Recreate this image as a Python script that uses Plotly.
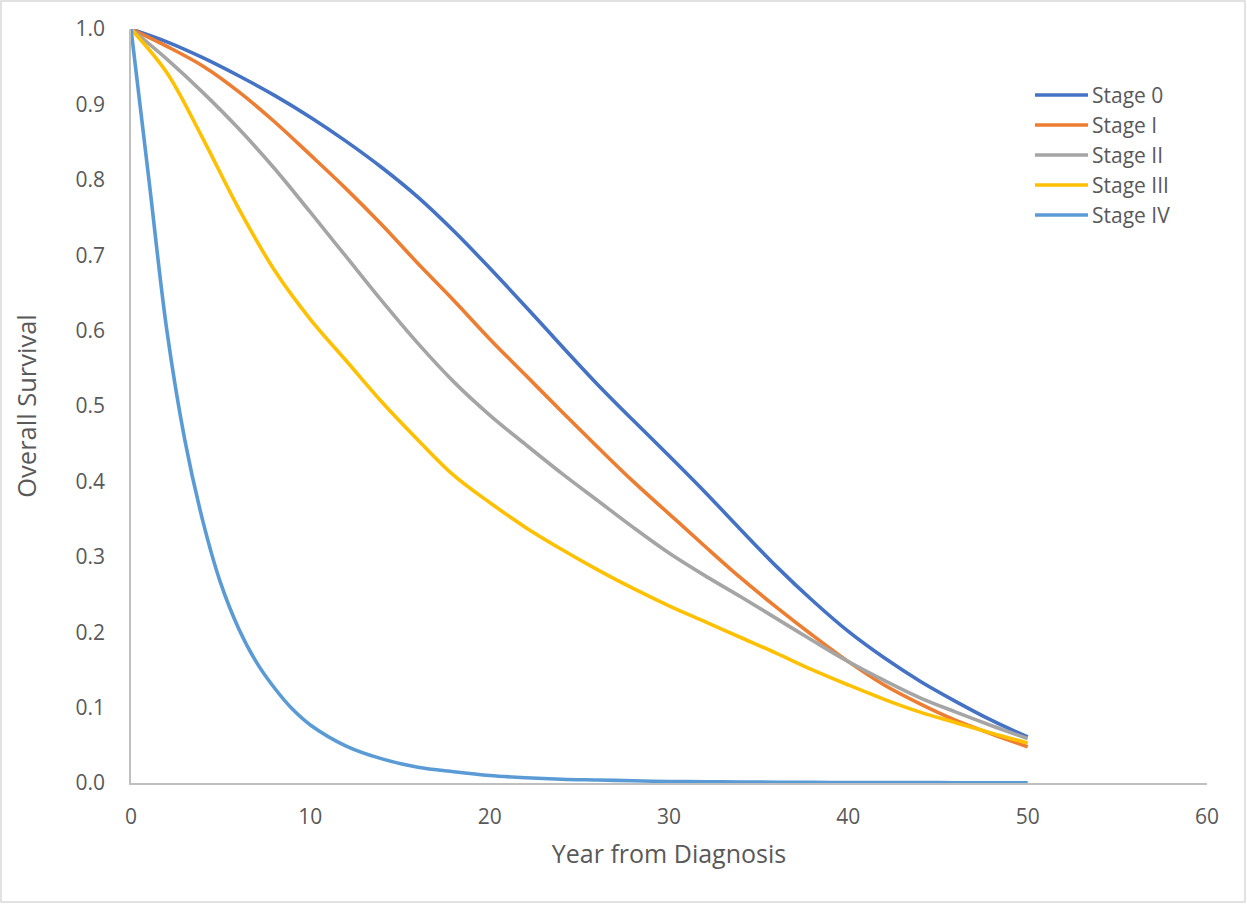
import plotly.graph_objects as go

# 2-year grid for Stages 0-III
years = [0, 2, 4, 6, 8, 10, 12, 14, 16, 18, 20, 22, 24, 26, 28,
         30, 32, 34, 36, 38, 40, 42, 44, 46, 48, 50]

stage_0 = [1.0, 0.983, 0.962, 0.938, 0.912, 0.883, 0.851, 0.816, 0.777, 0.732, 0.683,
           0.632, 0.580, 0.529, 0.481, 0.434, 0.386, 0.336, 0.287, 0.242,
           0.201, 0.166, 0.135, 0.108, 0.083, 0.061]
stage_1 = [1.0, 0.977, 0.951, 0.917, 0.877, 0.833, 0.788, 0.740, 0.689, 0.640, 0.589,
           0.541, 0.493, 0.446, 0.400, 0.357, 0.314, 0.272, 0.233, 0.196,
           0.161, 0.130, 0.105, 0.083, 0.065, 0.048]
stage_2 = [1.0, 0.960, 0.916, 0.868, 0.815, 0.757, 0.698, 0.639, 0.583, 0.532, 0.488,
           0.449, 0.411, 0.375, 0.339, 0.305, 0.275, 0.247, 0.218, 0.189,
           0.161, 0.136, 0.113, 0.094, 0.076, 0.059]
stage_3 = [1.0, 0.942, 0.855, 0.762, 0.680, 0.615, 0.560, 0.505, 0.455, 0.408, 0.372,
           0.339, 0.310, 0.283, 0.258, 0.235, 0.214, 0.193, 0.172, 0.150,
           0.130, 0.111, 0.094, 0.080, 0.066, 0.053]

# finer early grid for Stage IV (steep early drop)
years_iv = [0, 1, 2, 3, 4, 5, 6, 7, 8, 9, 10, 12, 14, 16, 18, 20, 22, 24, 26, 28,
            30, 32, 34, 36, 38, 40, 42, 44, 46, 48, 50]
stage_4 = [1.0, 0.800, 0.600, 0.455, 0.348, 0.265, 0.205, 0.160, 0.126, 0.098, 0.077,
           0.049, 0.032, 0.021, 0.015, 0.010, 0.007, 0.005, 0.004, 0.003,
           0.002, 0.0016, 0.0013, 0.001, 0.0008, 0.0007, 0.0006, 0.0005, 0.0004, 0.0003, 0.0003]

series_names = ["Stage 0", "Stage I", "Stage II", "Stage III", "Stage IV"]
series_x = [years, years, years, years, years_iv]
series_values = [stage_0, stage_1, stage_2, stage_3, stage_4]
colors = ["#4472C4", "#ED7D31", "#A5A5A5", "#FFC000", "#5B9BD5"]

x_ticks = [0, 10, 20, 30, 40, 50, 60]
y_ticks = [0.0, 0.1, 0.2, 0.3, 0.4, 0.5, 0.6, 0.7, 0.8, 0.9, 1.0]

FONT = "Open Sans"
TXT = "#595959"

fig = go.Figure()
for name, xs, vals, col in zip(series_names, series_x, series_values, colors):
    fig.add_trace(go.Scatter(
        x=xs, y=vals, name=name, mode="lines",
        line=dict(color=col, width=3.6, shape="spline", smoothing=1.0),
        showlegend=False,
    ))

W, H = 1247, 904
L, R, T, B = 131, 40, 29, 121
pw, ph = W - L - R, H - T - B


def px_x(p):
    return (p - L) / pw


def px_y(p):
    return (H - B - p) / ph


# custom legend: long line samples like the original
leg_top, leg_step = 95, 30
for i, (name, col) in enumerate(zip(series_names, colors)):
    yy = px_y(leg_top + i * leg_step)
    fig.add_shape(type="line", xref="paper", yref="paper",
                  x0=px_x(1035), x1=px_x(1088), y0=yy, y1=yy,
                  line=dict(color=col, width=3.6))
    fig.add_annotation(xref="paper", yref="paper", x=px_x(1090), y=yy,
                       text=name, showarrow=False, xanchor="left", yanchor="middle",
                       font=dict(family=FONT, size=21, color=TXT))

fig.update_layout(
    width=W, height=H,
    margin=dict(l=L, r=R, t=T, b=B),
    paper_bgcolor="white", plot_bgcolor="white",
    font=dict(family=FONT, size=21, color=TXT),
    showlegend=False,
    xaxis=dict(
        range=[0, 60], tickvals=x_ticks, ticktext=[str(v) for v in x_ticks],
        showgrid=False, zeroline=False, showline=True, linecolor="#BFBFBF", linewidth=1.5,
        ticks="", ticklabelstandoff=14,
        title=dict(text="Year from Diagnosis", font=dict(family=FONT, size=25, color=TXT), standoff=17),
    ),
    yaxis=dict(
        range=[0, 1.0], tickvals=y_ticks, ticktext=[f"{v:.1f}" for v in y_ticks],
        showgrid=False, zeroline=False, showline=True, linecolor="#BFBFBF", linewidth=1.5,
        ticks="", ticklabelstandoff=20,
        title=dict(text="Overall Survival", font=dict(family=FONT, size=25.5, color=TXT), standoff=32),
    ),
)

fig.add_shape(
    type="rect", xref="paper", yref="paper",
    x0=px_x(1), x1=px_x(W - 2),
    y0=px_y(H - 2), y1=px_y(1),
    line=dict(color="#D9D9D9", width=1.5), fillcolor="rgba(0,0,0,0)", layer="below",
)

fig.write_html("out.html")
